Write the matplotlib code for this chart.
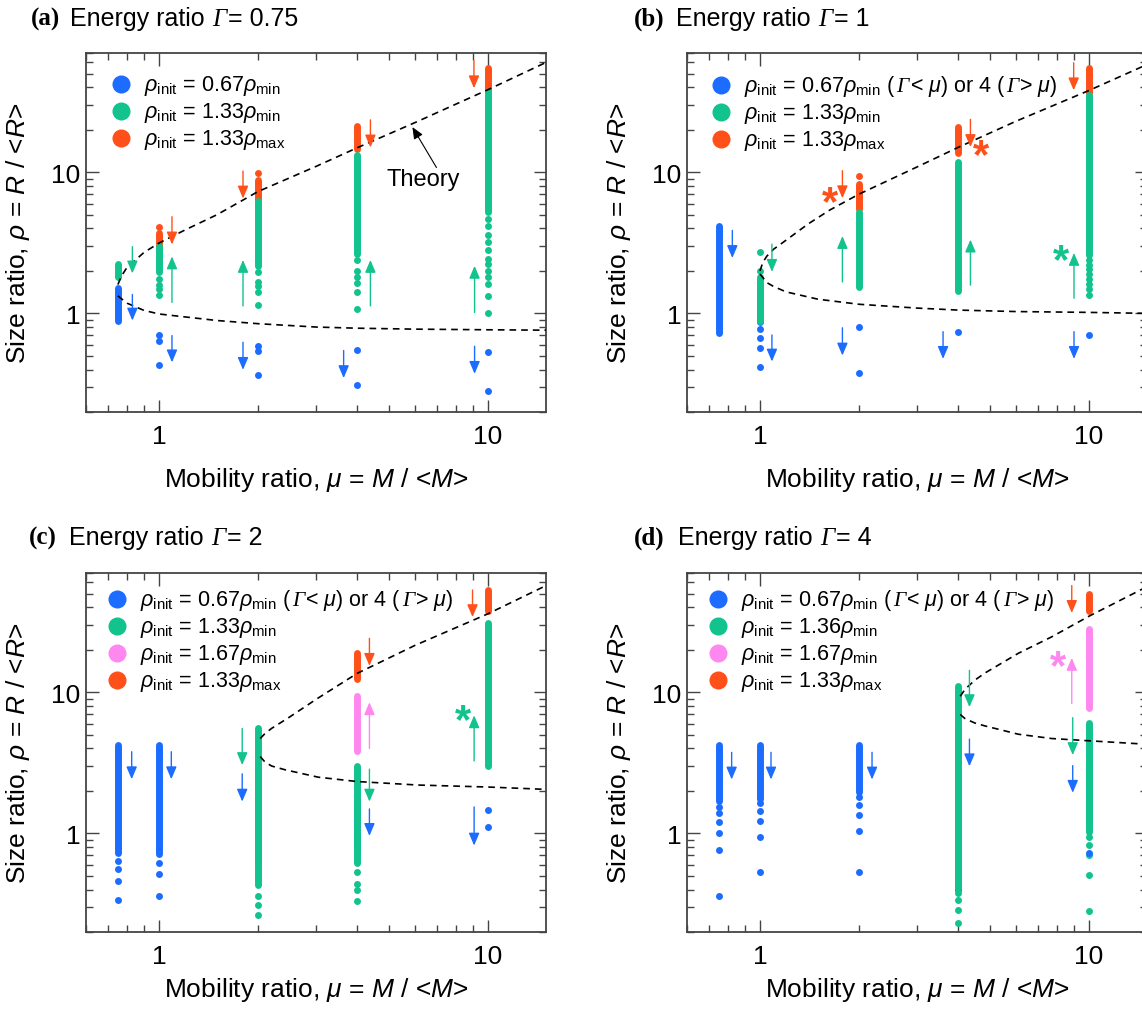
import matplotlib
matplotlib.use('Agg')
import matplotlib.pyplot as plt
from matplotlib.ticker import FixedLocator, NullFormatter, LogLocator
from matplotlib.transforms import offset_copy

plt.rcParams['font.family'] = ['Liberation Sans', 'DejaVu Sans']
plt.rcParams['mathtext.fontset'] = 'custom'
plt.rcParams['mathtext.rm'] = 'Liberation Sans'
plt.rcParams['mathtext.it'] = 'Liberation Sans:italic'
plt.rcParams['mathtext.bf'] = 'Liberation Sans:bold'

# series keys: 'lo' = 0.67 rho_min, 'mid' = 1.33/1.36 rho_min, 'pk' = 1.67 rho_min, 'hi' = 1.33 rho_max
# dense ranges drawn as solid columns: (mu, rho_low, rho_high, series)
a_bars = [(0.75, 0.89, 1.51, 'lo'), (0.75, 1.82, 2.23, 'mid'),
          (1, 3.0, 3.73, 'hi'), (1, 1.95, 3.0, 'mid'),
          (2, 6.41, 8.87, 'hi'), (2, 2.17, 6.24, 'mid'),
          (4, 14.6, 21.3, 'hi'), (4, 2.62, 13.3, 'mid'),
          (10, 38.3, 54.5, 'hi'), (10, 5.2, 37.2, 'mid')]
a_dots = [(1, [4.11], 'hi'), (1, [1.75, 1.585, 1.5, 1.35], 'mid'), (1, [0.70, 0.64, 0.43], 'lo'),
          (2, [9.9], 'hi'), (2, [1.97, 1.67, 1.57, 1.42, 1.15], 'mid'), (2, [0.585, 0.54, 0.363], 'lo'),
          (4, [2.37, 2.01, 1.80, 1.64, 1.42, 1.08], 'mid'), (4, [0.55, 0.31], 'lo'),
          (10, [4.63, 4.16, 3.57, 3.21, 2.81, 2.44, 2.22, 2.0, 1.82, 1.61, 1.32, 1.0], 'mid'),
          (10, [0.536, 0.28], 'lo')]
a_arrows = [(0.83, 2.97, 1.92, 'mid'), (0.83, 1.36, 0.89, 'lo'),
            (1.095, 4.84, 3.08, 'hi'), (1.095, 1.196, 2.53, 'mid'), (1.095, 0.696, 0.45, 'lo'),
            (1.8, 10.2, 6.52, 'hi'), (1.8, 1.13, 2.39, 'mid'), (1.8, 0.624, 0.398, 'lo'),
            (4.39, 23.5, 15.0, 'hi'), (4.39, 1.13, 2.39, 'mid'), (3.64, 0.545, 0.348, 'lo'),
            (9.06, 61.8, 39.4, 'hi'), (9.1, 1.016, 2.17, 'mid'), (9.1, 0.585, 0.373, 'lo')]
a_stars = []
a_up_mu = [0.75, 0.77, 0.8, 0.9, 1.0, 1.2, 1.5, 2, 3, 4, 6, 10, 15]
a_up_rho = [1.6, 1.85, 2.12, 2.7, 3.15, 3.9, 5.0, 7.3, 11.0, 14.9, 22.5, 38.5, 60]
a_low_mu = [0.75, 0.8, 0.9, 1.0, 1.5, 2, 3, 4, 6, 10, 15]
a_low_rho = [1.33, 1.18, 1.05, 0.99, 0.89, 0.845, 0.80, 0.785, 0.773, 0.765, 0.76]

b_bars = [(0.75, 0.73, 4.16, 'lo'), (1, 0.87, 1.42, 'lo'), (1, 0.88, 1.80, 'mid'),
          (2, 5.5, 8.28, 'hi'), (2, 1.54, 5.27, 'mid'),
          (4, 13.8, 20.8, 'hi'), (4, 1.44, 11.9, 'mid'),
          (10, 36.6, 55, 'hi'), (10, 2.6, 35.1, 'mid')]
b_dots = [(1, [2.72, 2.01], 'mid'), (1, [0.775, 0.673, 0.566, 0.414], 'lo'),
          (2, [9.37], 'hi'), (2, [0.805, 0.375], 'lo'), (4, [0.738], 'lo'),
          (10, [2.4, 2.2, 2.05, 1.9, 1.75, 1.62, 1.5, 1.35], 'mid'), (10, [0.707], 'lo')]
b_arrows = [(0.824, 3.87, 2.47, 'lo'), (1.087, 3.09, 1.97, 'mid'), (1.087, 0.703, 0.456, 'lo'),
            (1.78, 10.25, 6.55, 'hi'), (1.78, 1.67, 3.53, 'mid'), (1.78, 0.79, 0.503, 'lo'),
            (4.36, 23.7, 15.1, 'hi'), (4.36, 1.585, 3.33, 'mid'), (3.6, 0.742, 0.476, 'lo'),
            (8.98, 59.7, 38.1, 'hi'), (9.0, 1.28, 2.68, 'mid'), (9.0, 0.742, 0.476, 'lo')]
b_stars = [(1.63, 6.48, 'hi'), (4.71, 14.0, 'hi'), (8.24, 2.51, 'mid')]
b_up_mu = [1.0, 1.02, 1.05, 1.1, 1.2, 1.4, 1.63, 2, 3, 4, 6, 10, 15]
b_up_rho = [2.0, 2.3, 2.55, 2.85, 3.3, 4.3, 5.4, 7.0, 10.9, 15.0, 23, 38, 58]
b_low_mu = [1.0, 1.05, 1.1, 1.2, 1.5, 2, 3, 4, 6, 10, 15]
b_low_rho = [1.9, 1.65, 1.55, 1.42, 1.26, 1.16, 1.09, 1.055, 1.03, 1.016, 1.0]

c_bars = [(0.75, 0.73, 4.22, 'lo'), (1, 0.71, 4.22, 'lo'),
          (2, 0.62, 2.79, 'lo'), (2, 0.43, 5.62, 'mid'),
          (4, 3.85, 9.48, 'pk'), (4, 12.4, 19.1, 'hi'), (4, 0.77, 1.64, 'lo'), (4, 0.62, 3.0, 'mid'),
          (10, 37.5, 53.2, 'hi'), (10, 3.0, 31, 'mid')]
c_dots = [(0.75, [0.64, 0.56, 0.46, 0.338], 'lo'), (1, [0.615, 0.515, 0.36], 'lo'),
          (2, [0.36, 0.31, 0.266], 'mid'), (4, [0.53, 0.438, 0.394, 0.33], 'mid'),
          (10, [1.46, 1.11], 'lo')]
c_arrows = [(0.826, 3.79, 2.42, 'lo'), (1.09, 3.79, 2.42, 'lo'),
            (1.79, 5.54, 3.05, 'mid'), (1.79, 2.64, 1.68, 'lo'),
            (4.36, 24.1, 15.4, 'hi'), (4.36, 4.0, 8.49, 'pk'), (4.36, 2.85, 1.68, 'mid'), (4.36, 1.49, 0.96, 'lo'),
            (8.97, 53, 34.1, 'hi'), (9.07, 3.26, 6.86, 'mid'), (9.07, 1.54, 0.82, 'lo')]
c_stars = [(8.4, 6.67, 'mid')]
c_up_mu = [2.03, 2.1, 2.2, 2.5, 3, 4, 6, 10, 15]
c_up_rho = [4.7, 5.1, 5.55, 6.7, 8.9, 13.6, 21.5, 36, 57]
c_low_mu = [2.03, 2.1, 2.2, 2.42, 3.05, 4, 6.13, 10, 15]
c_low_rho = [3.5, 3.2, 3.0, 2.82, 2.5, 2.33, 2.2, 2.13, 2.05]

d_bars = [(0.75, 1.7, 4.22, 'lo'), (1, 1.76, 4.22, 'lo'), (2, 1.96, 4.22, 'lo'),
          (4, 0.4, 5.62, 'lo'), (4, 0.41, 11.1, 'mid'),
          (10, 37.7, 49.3, 'hi'), (10, 7.76, 27.9, 'pk'), (10, 1.14, 3.1, 'lo'), (10, 1.03, 6.09, 'mid')]
d_dots = [(0.75, [1.55, 1.4, 1.2, 1.0, 0.76, 0.36], 'lo'), (1, [1.65, 1.45, 1.22, 0.95, 0.53], 'lo'),
          (2, [1.8, 1.6, 1.35, 1.04, 0.53], 'lo'), (4, [0.379, 0.335, 0.288, 0.231], 'mid'),
          (10, [0.95, 0.83, 0.705, 0.51, 0.284], 'mid'), (10, [0.72], 'lo')]
d_arrows = [(0.82, 3.75, 2.41, 'lo'), (1.08, 3.75, 2.41, 'lo'), (2.19, 3.75, 2.41, 'lo'),
            (4.33, 14.3, 7.85, 'mid'), (4.33, 4.66, 2.99, 'lo'),
            (8.86, 57, 36.5, 'hi'), (8.86, 8.33, 17.5, 'pk'), (8.92, 6.6, 3.59, 'mid'), (8.92, 3.02, 1.94, 'lo')]
d_stars = [(8.03, 16.1, 'pk')]
d_up_mu = [4.06, 4.2, 4.5, 4.83, 6.1, 7.7, 10, 15]
d_up_rho = [9.37, 10.5, 12.2, 13.7, 18.9, 24.7, 34.6, 56]
d_low_mu = [4.06, 4.2, 4.5, 4.83, 6.1, 7.7, 10, 15]
d_low_rho = [6.96, 6.5, 6.05, 5.77, 5.04, 4.7, 4.53, 4.28]

G = 'Γ'
lab_lo1 = [r'$\rho_{\mathrm{init}}$ = 0.67$\rho_{\mathrm{min}}$']
lab_lo2 = [r'$\rho_{\mathrm{init}}$ = 0.67$\rho_{\mathrm{min}}$ (', G, r'< $\mu$) or 4 (', G, r'> $\mu$)']
lab_mid = [r'$\rho_{\mathrm{init}}$ = 1.33$\rho_{\mathrm{min}}$']
lab_mid_d = [r'$\rho_{\mathrm{init}}$ = 1.36$\rho_{\mathrm{min}}$']
lab_pk = [r'$\rho_{\mathrm{init}}$ = 1.67$\rho_{\mathrm{min}}$']
lab_hi = [r'$\rho_{\mathrm{init}}$ = 1.33$\rho_{\mathrm{max}}$']

colors = {'lo': '#1b6cff', 'mid': '#12c38e', 'pk': '#ff88f0', 'hi': '#ff501a'}

fig = plt.figure(figsize=(11.42, 10.12), dpi=100)
renderer = fig.canvas.get_renderer()
W, H = 1142.0, 1012.0


def rich(txtfn, x, y, pieces, transform, size):
    # pieces drawn one after another on a shared baseline; Gamma in serif italic
    dx = 0.0
    for p in pieces:
        if p == G:
            t = txtfn(x, y, p, transform=offset_copy(transform, x=dx + 1, y=0, units='dots'),
                      fontsize=size, family='Liberation Serif', fontstyle='italic', va='baseline')
            dx += t.get_window_extent(renderer).width + 2
        else:
            t = txtfn(x, y, p, transform=offset_copy(transform, x=dx, y=0, units='dots'),
                      fontsize=size, va='baseline')
            dx += t.get_window_extent(renderer).width


def panel(left_px, bottom_px, bars, dots, arrows, stars, up, low, legend, leg_x, leg_y, xpad):
    ax = fig.add_axes([left_px / W, 1 - bottom_px / H, 460 / W, 359 / H])
    ax.set_xscale('log')
    ax.set_yscale('log')
    ax.set_xlim(0.6, 15)
    ax.set_ylim(0.2, 70)
    ax.plot(up[0], up[1], color='black', lw=1.2, ls=(0, (4, 3)), zorder=4)
    ax.plot(low[0], low[1], color='black', lw=1.2, ls=(0, (4, 3)), zorder=4)
    for mu, lo, hi, s in bars:
        ax.plot([mu, mu], [lo, hi], color=colors[s], lw=5, solid_capstyle='round', zorder=2)
    for mu, vals, s in dots:
        ax.plot([mu] * len(vals), vals, 'o', color=colors[s], ms=5, mew=0, zorder=3)
    for mu, y0, y1, s in arrows:
        ax.annotate('', xy=(mu, y1), xytext=(mu, y0),
                    arrowprops=dict(arrowstyle='-|>,head_length=0.75,head_width=0.32',
                                    color=colors[s], lw=1.0, shrinkA=0, shrinkB=0), zorder=5)
    for mu, y, s in stars:
        ax.text(mu, y, '*', color=colors[s], fontsize=30, fontweight='bold',
                ha='center', va='center_baseline', zorder=5)
    # legend rows: big dot + label, row spacing ~27 px
    for i, (s, pieces) in enumerate(legend):
        yy = leg_y - i * 27.0 / 359
        ax.plot([leg_x], [yy], 'o', ms=13, mew=0, color=colors[s], transform=ax.transAxes, clip_on=False)
        rich(ax.text, leg_x + 23.0 / 460, yy - 6.5 / 359, pieces, ax.transAxes, 15.5)
    ax.xaxis.set_major_locator(FixedLocator([1, 10]))
    ax.yaxis.set_major_locator(FixedLocator([1, 10]))
    ax.set_xticklabels(['1', '10'])
    ax.set_yticklabels(['1', '10'])
    ax.xaxis.set_minor_locator(LogLocator(base=10, subs=range(2, 10)))
    ax.yaxis.set_minor_locator(LogLocator(base=10, subs=range(2, 10)))
    ax.xaxis.set_minor_formatter(NullFormatter())
    ax.yaxis.set_minor_formatter(NullFormatter())
    ax.tick_params(which='both', direction='in', top=True, right=True, color='#444444', width=1)
    ax.tick_params(which='major', length=9, labelsize=19)
    ax.tick_params(which='minor', length=5)
    ax.tick_params(axis='x', pad=9)
    ax.tick_params(axis='y', pad=4)
    for sp in ax.spines.values():
        sp.set_linewidth(1.3)
        sp.set_color('#444444')
    ax.set_xlabel(r'Mobility ratio, $\mu$ = $M$ / <$M$>', fontsize=19, labelpad=xpad)
    ax.set_ylabel(r'Size ratio, $\rho$ = $R$ / <$R$>', fontsize=19, labelpad=14)
    return ax


ax_a = panel(86, 413, a_bars, a_dots, a_arrows, a_stars, (a_up_mu, a_up_rho), (a_low_mu, a_low_rho),
             [('lo', lab_lo1), ('mid', lab_mid), ('hi', lab_hi)], 0.076, 0.914, 12)
ax_a.text(6.35, 8.9, 'Theory', fontsize=17, ha='center', va='center')
ax_a.annotate('', xy=(5.89, 20.9), xytext=(6.97, 10.8),
              arrowprops=dict(arrowstyle='-|>,head_length=0.7,head_width=0.3', color='black', lw=0.8,
                              shrinkA=0, shrinkB=0))
panel(687, 413, b_bars, b_dots, b_arrows, b_stars, (b_up_mu, b_up_rho), (b_low_mu, b_low_rho),
      [('lo', lab_lo2), ('mid', lab_mid), ('hi', lab_hi)], 0.074, 0.911, 12)
panel(86, 933, c_bars, c_dots, c_arrows, c_stars, (c_up_mu, c_up_rho), (c_low_mu, c_low_rho),
      [('lo', lab_lo2), ('mid', lab_mid), ('pk', lab_pk), ('hi', lab_hi)], 0.067, 0.928, 5)
panel(687, 933, d_bars, d_dots, d_arrows, d_stars, (d_up_mu, d_up_rho), (d_low_mu, d_low_rho),
      [('lo', lab_lo2), ('mid', lab_mid_d), ('pk', lab_pk), ('hi', lab_hi)], 0.067, 0.928, 5)

titles = [(31, 70, 26, '(a)', '0.75'),
          (634, 676, 26, '(b)', '1'),
          (29, 69, 545, '(c)', '2'),
          (634, 678, 545, '(d)', '4')]
for x0, x1, y, tag, val in titles:
    fig.text(x0 / W, 1 - y / H, tag, fontsize=18, fontweight='bold', family='Liberation Serif', va='baseline')
    rich(fig.text, x1 / W, 1 - y / H, ['Energy ratio ', G, '= ' + val], fig.transFigure, 18)

fig.savefig('out.png', dpi=100)
